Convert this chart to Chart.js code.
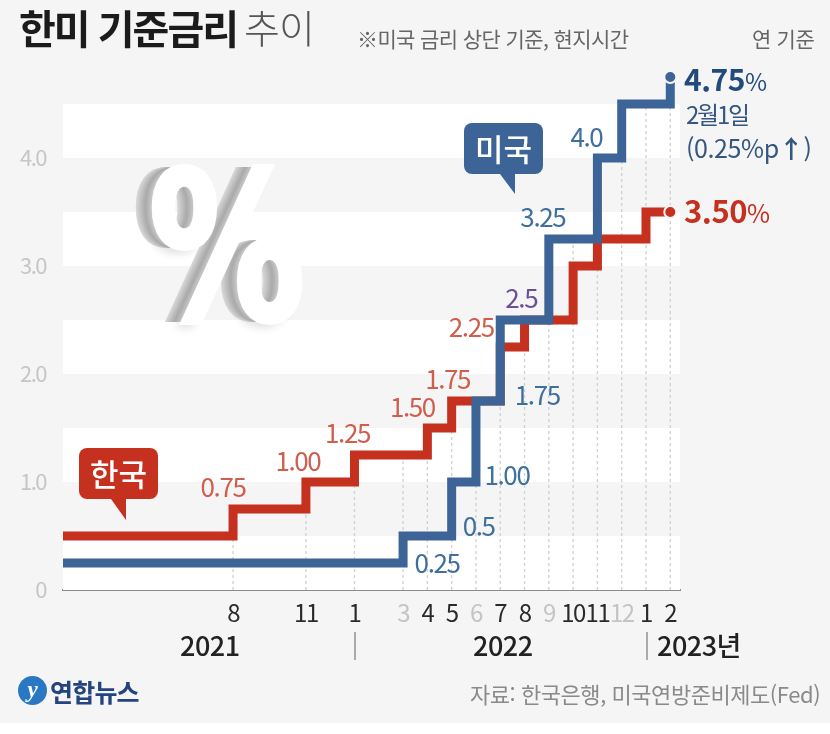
<!DOCTYPE html>
<html lang="ko">
<head>
<meta charset="utf-8">
<title>한미 기준금리 추이</title>
<script src="https://cdn.jsdelivr.net/npm/chart.js@4"></script>
<style>
  html, body { margin: 0; background: #fff; }
  #stage { position: relative; width: 830px; height: 723px; background: #f5f5f5; overflow: hidden;
           font-family: "Noto Sans CJK KR", "Noto Sans", sans-serif; }
  #stage canvas { position: absolute; left: 0; top: 0; }
  .t { position: absolute; white-space: nowrap; line-height: 1; }
  .bubble { position: absolute; width: 79px; height: 51px; border-radius: 8px; color: #fff;
            font-weight: 500; font-size: 31px; line-height: 49px; text-align: center; }
  .bubble i { position: absolute; width: 0; height: 0; border-style: solid; border-color: transparent; }
  .year { font-size: 27px; font-weight: 500; color: #222; letter-spacing: -0.5px; }
  .sep { position: absolute; width: 2px; height: 28px; background: #aaa; top: 632px; }
</style>
</head>
<body>
<div id="stage">
  <canvas id="chart" width="830" height="723"></canvas>

  <div class="t" style="left:19px;top:7px;font-size:40px;font-weight:700;color:#1b1b1b;letter-spacing:-2px">한미 기준금리</div>
  <div class="t" style="left:244px;top:7px;font-size:39px;font-weight:300;color:#555;letter-spacing:-1px">추이</div>
  <div class="t" style="left:357px;top:28px;font-size:21px;color:#666;letter-spacing:-0.6px">※미국 금리 상단 기준, 현지시간</div>
  <div class="t" style="left:752px;top:28px;font-size:21px;color:#666;letter-spacing:-0.3px">연 기준</div>

  <div class="t" id="pct" style="left:149px;top:146px;font-family:'DejaVu Sans';font-weight:700;font-size:205px;color:#fff;-webkit-text-stroke:6px #fff;transform:scaleX(.76);transform-origin:left top;">%</div>

  <div class="bubble" style="left:464px;top:123px;background:#3c6497">미국<i style="left:36px;top:51px;border-width:20px 0 0 15px;border-top-color:#3c6497"></i></div>
  <div class="bubble" style="left:79px;top:448px;background:#c5301f">한국<i style="left:32px;top:51px;border-width:21px 0 0 15px;border-top-color:#c5301f"></i></div>

  <div class="t" style="left:684px;top:63px;font-size:30px;font-weight:700;color:#234a7c;letter-spacing:-0.5px">4.75<span style="font-weight:400;font-size:24px">%</span></div>
  <div class="t" style="left:686px;top:102px;font-size:24px;color:#34567f;letter-spacing:-2.2px">2월1일</div>
  <div class="t" style="left:686px;top:135px;font-size:25px;color:#34567f;letter-spacing:-0.4px">(0.25%p<b>↑</b>)</div>
  <div class="t" style="left:684px;top:194px;font-size:31px;font-weight:700;color:#c5301f;letter-spacing:-0.5px">3.50<span style="font-weight:400;font-size:25px">%</span></div>

  <div class="t year" style="left:180px;top:631px">2021</div>
  <div class="sep" style="left:354px"></div>
  <div class="t year" style="left:473px;top:631px">2022</div>
  <div class="sep" style="left:646px"></div>
  <div class="t year" style="left:657px;top:631px">2023년</div>

  <div class="t" style="left:18px;top:676px;width:29px;height:29px;border-radius:50%;background:#2a78c4;color:#fff;font:italic 700 23px/27px 'Liberation Serif';text-align:center">y</div>
  <div class="t" style="left:50px;top:679px;font-size:25px;font-weight:700;color:#24447f;letter-spacing:-0.8px">연합뉴스</div>
  <div class="t" style="left:470px;top:682px;font-size:22px;color:#8a8a8a;letter-spacing:-0.45px">자료: 한국은행, 미국연방준비제도(Fed)</div>
</div>

<script>
// Months run from Jan 2021 (index 0) to Feb 2023 (index 25). Blank = no tick label.
const monthLabels = ['', '', '', '', '', '', '', '8', '', '', '11', '', '1', '', '3', '4', '5', '6', '7', '8', '9', '10', '11', '12', '1', '2'];
const mutedMonths = [14, 17, 20, 23];
const yTicks = [0, 1, 2, 3, 4];
const bandEdges = [0, 0.5, 1, 1.5, 2, 2.5, 3, 3.5, 4, 4.5];

const krRate = [0.5, 0.5, 0.5, 0.5, 0.5, 0.5, 0.5, 0.75, 0.75, 0.75, 1, 1, 1.25, 1.25, 1.25, 1.5, 1.75, 1.75, 2.25, 2.5, 2.5, 3, 3.25, 3.25, 3.5, 3.5];
const usRate = [0.25, 0.25, 0.25, 0.25, 0.25, 0.25, 0.25, 0.25, 0.25, 0.25, 0.25, 0.25, 0.25, 0.25, 0.5, 0.5, 1, 1.75, 2.5, 2.5, 3.25, 3.25, 4, 4.5, 4.5, 4.75];

const krLabelText = ['0.75', '1.00', '1.25', '1.50', '1.75', '2.25'];
const krLabelMonth = [7, 10, 12, 15, 16, 18];
const usLabelText = ['0.25', '0.5', '1.00', '1.75', '2.5', '3.25', '4.0'];
const usLabelMonth = [14, 16, 17, 18, 18, 20, 22];

// label placement relative to the anchor point, px
const krLabelOffset = [[-10, -22], [-8, -21], [-7, -22], [-15, -21], [-4, -22], [-29, -20]];
const usLabelOffset = [[34, 0], [27, -10], [31, -7], [37, -6], [21, -22], [-6, -22], [-11, -21]];
const usLabelColor = ['#3f6f9f', '#3f6f9f', '#3f6f9f', '#3f6f9f', '#6a5096', '#3f6f9f', '#3f6f9f'];

const BLUE = '#3c6497';
const RED = '#c5301f';
const FONT = '"Noto Sans CJK KR", "Noto Sans", sans-serif';

// %-sign extrusion: single element, layered text-shadow
const layers = [];
for (let i = 1; i <= 24; i++) {
  const g = Math.round(170 + 45 * Math.abs(i - 12) / 12);
  layers.push(`-${i}px 0 0 rgb(${g},${g},${g})`);
}
layers.push('-10px 6px 10px rgba(0,0,0,.12)');
document.getElementById('pct').style.textShadow = layers.join(',');

const bands = {
  id: 'bands',
  beforeDatasetsDraw(chart) {
    const { ctx, scales: { x, y } } = chart;
    ctx.save();
    ctx.fillStyle = '#fff';
    for (let i = 0; i < bandEdges.length - 1; i += 2) {
      const top = y.getPixelForValue(bandEdges[i + 1]);
      ctx.fillRect(x.left, top, x.right - x.left, y.getPixelForValue(bandEdges[i]) - top);
    }
    // dotted drop lines from the axis up to the higher series
    ctx.strokeStyle = '#d2d2d2';
    ctx.lineWidth = 1.4;
    ctx.setLineDash([3, 3]);
    monthLabels.forEach((m, i) => {
      if (!m) return;
      const px = x.getPixelForValue(i);
      ctx.beginPath();
      ctx.moveTo(px, y.getPixelForValue(0));
      ctx.lineTo(px, y.getPixelForValue(Math.max(krRate[i], usRate[i])));
      ctx.stroke();
    });
    ctx.restore();
  }
};

const rateLabels = {
  id: 'rateLabels',
  beforeDraw(chart) {
    chart.ctx.letterSpacing = '-1.5px'; // tight tick digits like the reference
  },
  afterDatasetsDraw(chart) {
    const { ctx, scales: { x, y } } = chart;
    const draw = (text, month, off, color) => {
      ctx.fillStyle = color;
      ctx.fillText(text, x.getPixelForValue(month) + off[0], y.getPixelForValue(parseFloat(text)) + off[1]);
    };
    ctx.save();
    ctx.font = '26px ' + FONT;
    ctx.letterSpacing = '-1.4px';
    ctx.textAlign = 'center';
    ctx.textBaseline = 'middle';
    krLabelText.forEach((t, i) => draw(t, krLabelMonth[i], krLabelOffset[i], '#cf5f4c'));
    usLabelText.forEach((t, i) => draw(t, usLabelMonth[i], usLabelOffset[i], usLabelColor[i]));
    ctx.restore();
  }
};

const lastPoint = ctx => (ctx.dataIndex === monthLabels.length - 1 ? 6 : 0);
const toPoints = arr => arr.map((v, i) => ({ x: i, y: v }));

new Chart(document.getElementById('chart'), {
  type: 'line',
  data: {
    datasets: [
      { label: '미국', data: toPoints(usRate), borderColor: BLUE, backgroundColor: BLUE, borderWidth: 9,
        stepped: 'before', borderJoinStyle: 'miter', pointRadius: lastPoint, pointBorderColor: '#f5f5f5', pointBorderWidth: 2 },
      { label: '한국', data: toPoints(krRate), borderColor: RED, backgroundColor: RED, borderWidth: 9,
        stepped: 'before', borderJoinStyle: 'miter', pointRadius: lastPoint, pointBorderColor: '#f5f5f5', pointBorderWidth: 2 }
    ]
  },
  options: {
    responsive: false,
    animation: false,
    layout: { padding: { top: 50, right: 150, bottom: 0, left: 0 } },
    plugins: { legend: { display: false }, tooltip: { enabled: false } },
    scales: {
      x: {
        type: 'linear', min: 0, max: 25.4,
        afterBuildTicks(s) { s.ticks = monthLabels.map((_, i) => ({ value: i })); },
        afterFit(s) { s.height = 133; },
        grid: { display: false },
        border: { display: true, color: '#8c8c8c', width: 2 },
        ticks: {
          autoSkip: false, maxRotation: 0, padding: 0,
          font: { family: FONT, size: 24 },
          color: ctx => (mutedMonths.includes(ctx.tick.value) ? '#c4c4c4' : '#2a2a2a'),
          callback: v => monthLabels[v]
        }
      },
      y: {
        min: 0, max: 5,
        afterBuildTicks(s) { s.ticks = yTicks.map(v => ({ value: v })); },
        afterFit(s) { s.width = 63; },
        grid: { display: false },
        border: { display: false },
        ticks: {
          padding: 9,
          font: { family: FONT, size: 22 },
          color: '#c6c6c6',
          callback: v => (v === 0 ? '0' : v.toFixed(1))
        }
      }
    }
  },
  plugins: [bands, rateLabels]
});
</script>
</body>
</html>
